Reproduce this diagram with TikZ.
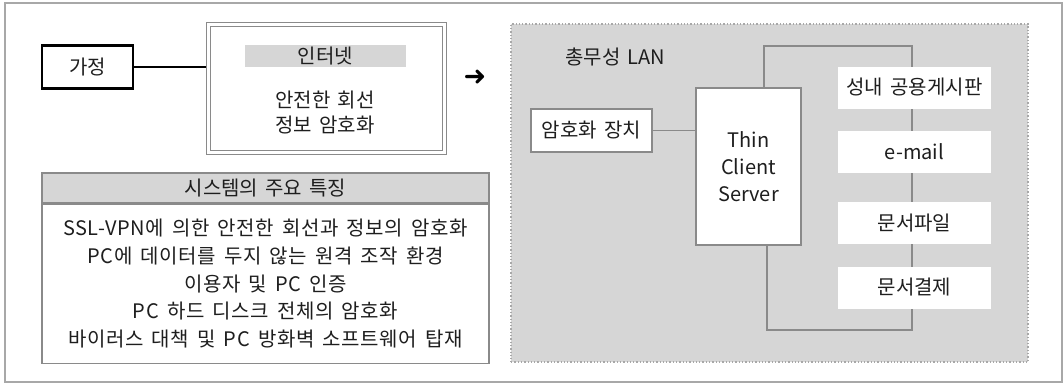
\documentclass[tikz,border=0pt]{standalone}
\usepackage{fontspec}
\setmainfont{Noto Sans CJK KR}[WordSpace=1.6]
\newfontfamily\dejavu{DejaVu Sans}
\definecolor{framegray}{HTML}{A8A8A8}
\definecolor{linegray}{HTML}{8A8A8A}
\definecolor{fillgray}{HTML}{D6D6D6}
\definecolor{txt}{HTML}{1E1E1E}
\tikzset{
  base/.style={font=\fontsize{20}{24}\selectfont, text=txt, inner sep=0pt, align=center},
  homebox/.style={base, draw=black, line width=2.5pt, minimum width=91pt, minimum height=43pt},
  inetbox/.style={draw=linegray, line width=1pt, double=white, double distance=3pt, minimum width=236pt, minimum height=128pt, inner sep=0pt},
  banner/.style={base, fill=fillgray, minimum width=161pt, minimum height=22pt},
  plain/.style={base},
  feathdr/.style={base, draw=linegray, line width=1.2pt, fill=fillgray, minimum width=447pt, minimum height=30pt},
  featbody/.style={base, draw=linegray, line width=1.2pt, fill=white, minimum width=447pt, minimum height=159pt, font=\fontsize{20}{27.7}\selectfont\addfontfeature{LetterSpace=3}},
  lanarea/.style={draw=framegray, dotted, line width=1.3pt, fill=fillgray, minimum width=517pt, minimum height=338pt, inner sep=0pt},
  graybox/.style={base, draw=linegray, line width=1.2pt, fill=white},
  whitebox/.style={base, fill=white, minimum width=153pt, minimum height=42pt},
  bus/.style={draw=linegray, line width=1.2pt},
}
\begin{document}
\begin{tikzpicture}[x=1pt,y=-1pt]
\useasboundingbox (0,0) rectangle (1064,384);
\draw[framegray, line width=1.5pt] (5,3) rectangle (1062,382);

% left part
\node[homebox] (home) at (87.5,67) {가정};
\node[inetbox] (inet) at (326,88) {};
\node[banner] (inetlbl) at (325.5,56) {인터넷};
\node[plain, font=\fontsize{20}{25}\selectfont] (inettxt) at (325,113) {안전한 회선\\정보 암호화};
\draw[black, line width=2pt, shorten >=2pt] (home.east) -- (home.east -| inet.west);

\node[font=\dejavu\fontsize{27}{27}\selectfont, inner sep=0pt, text=black] (arrow) at (475,78) {➜};

\node[feathdr] (fhead) at (265.5,188) {시스템의 주요 특징};
\node[featbody, anchor=north] (fbody) at (fhead.south) {SSL-VPN에 의한 안전한 회선과 정보의 암호화\\PC에 데이터를 두지 않는 원격 조작 환경\\이용자 및 PC 인증\\PC 하드 디스크 전체의 암호화\\바이러스 대책 및 PC 방화벽 소프트웨어 탑재};

% right part
\node[lanarea] (lan) at (769.5,193) {};
\node[plain, anchor=west] (lanlbl) at (565,57) {총무성 LAN};
\node[graybox, minimum width=121pt, minimum height=43pt] (cipher) at (591.5,130.5) {암호화 장치};
\node[graybox, minimum width=105pt, minimum height=157pt, font=\fontsize{20}{27}\selectfont] (thin) at (748.5,166.5) {Thin\\Client\\Server};

\coordinate (bt) at (764,46);
\coordinate (brt) at (912,46);
\coordinate (brb) at (912,330);
\coordinate (bb) at (767,330);
\draw[bus] (thin.north -| bt) -- (bt) -- (brt) -- (brb) -- (bb) -- (thin.south -| bb);
\draw[bus] (cipher.east) -- (cipher.east -| thin.west);

\node[whitebox] (board) at (914.5,87.5) {성내 공용게시판};
\node[whitebox] (mail) at (914.5,152) {e-mail};
\node[whitebox] (file) at (914.5,223) {문서파일};
\node[whitebox] (appr) at (914.5,287.5) {문서결제};
\end{tikzpicture}
\end{document}
